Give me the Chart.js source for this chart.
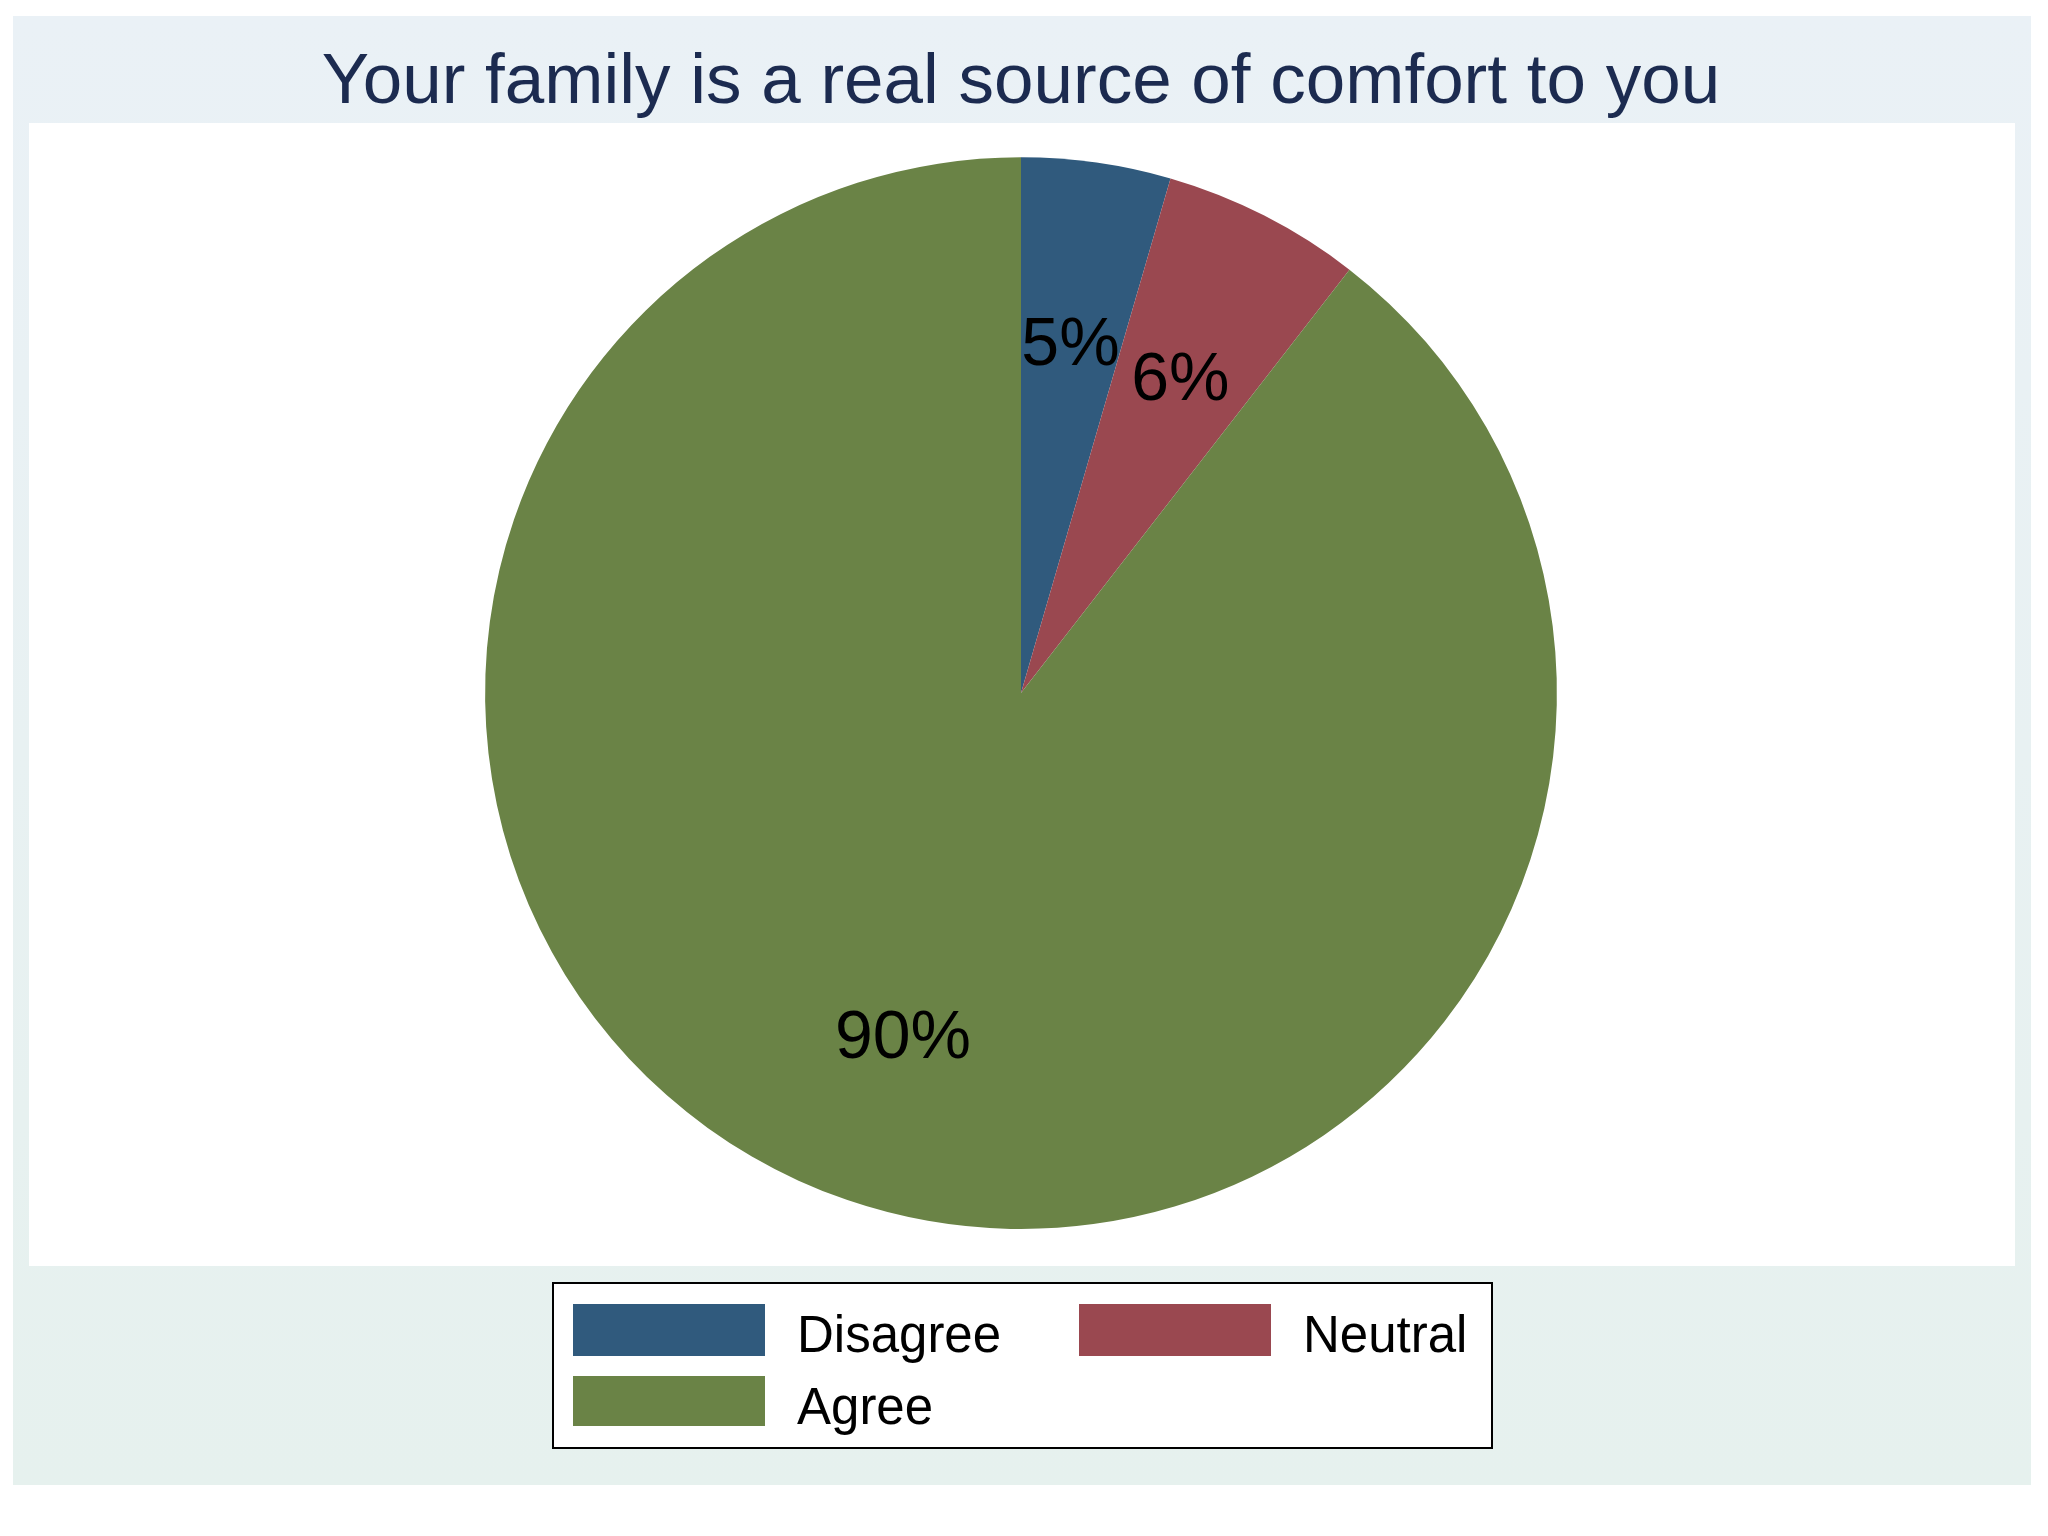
<!DOCTYPE html>
<html>
<head>
<meta charset="utf-8">
<script src="https://cdn.jsdelivr.net/npm/chart.js@4"></script>
<style>
  body { margin: 0; background: #fff; font-family: "Liberation Sans", Arial, sans-serif; }
  #panel { position: absolute; left: 13px; top: 16px; width: 2018px; height: 1469px;
           background: linear-gradient(#eaf1f6, #e6f1ee); }
  #plot { position: absolute; left: 29px; top: 123px; width: 1986px; height: 1143px; background: #fff; }
  #wrap { position: absolute; left: 0; top: 0; width: 2048px; height: 1536px; }
  #legend { position: absolute; left: 552px; top: 1282px; width: 937px; height: 163px;
            border: 2px solid #000; background: #fff; }
  .sw { position: absolute; width: 192px; height: 52px; }
  .lb { position: absolute; font-size: 51px; line-height: 1; color: #000; white-space: nowrap; }
</style>
</head>
<body>
<div id="panel"></div>
<div id="plot"></div>
<div id="wrap"><canvas id="grafico"></canvas></div>
<div id="legend"></div>
<script>
const titulo = 'Your family is a real source of comfort to you'
const categorias = ['Disagree', 'Neutral', 'Agree']
const valores = [4.5, 6.0, 89.5]
const rotulos = ['5%', '6%', '90%']
const cores = ['#305a7d', '#9a4850', '#6a8346']

// legenda em html (duas colunas, como no original)
const legenda = document.getElementById('legend')
const posLegenda = [[19, 20], [525, 20], [19, 92]]
categorias.forEach(function(nome, i){
    var sw = document.createElement('div')
    sw.className = 'sw'
    sw.style.left = posLegenda[i][0] + 'px'
    sw.style.top = posLegenda[i][1] + 'px'
    sw.style.height = (i == 2 ? 50 : 52) + 'px'
    sw.style.background = cores[i]
    legenda.appendChild(sw)
    var lb = document.createElement('div')
    lb.className = 'lb'
    lb.textContent = nome
    lb.style.left = (posLegenda[i][0] + 224) + 'px'
    lb.style.top = (posLegenda[i][1] + 5) + 'px'
    legenda.appendChild(lb)
})

const rotulosPlugin = {
    id: 'rotulos',
    afterDatasetsDraw(chart){
        const ctx = chart.ctx
        const arcos = chart.getDatasetMeta(0).data
        ctx.save()
        ctx.font = '68px "Liberation Sans", Arial, sans-serif'
        ctx.fillStyle = '#000'
        ctx.textAlign = 'center'
        ctx.textBaseline = 'middle'
        arcos.forEach(function(arco, i){
            const p = arco.getProps(['x', 'y', 'startAngle', 'endAngle', 'outerRadius'], true)
            const meio = (p.startAngle + p.endAngle) / 2
            const r = p.outerRadius * (i == 2 ? 0.68 : 0.655)
            ctx.fillText(rotulos[i], p.x + Math.cos(meio) * r, p.y + Math.sin(meio) * r + 1)
        })
        ctx.restore()
    }
}

const config = {
    type: 'pie',
    data: {
        labels: categorias,
        datasets: [{
            data: valores,
            backgroundColor: cores,
            borderWidth: 0,
        }]
    },
    options: {
        responsive: false,
        animation: false,
        layout: { padding: { top: 0, bottom: 307, left: 0, right: 6 } },
        plugins: {
            legend: { display: false },
            tooltip: { enabled: false },
            title: {
                display: true,
                text: titulo,
                color: '#1c2b50',
                font: { size: 71, family: '"Liberation Sans", Arial, sans-serif', weight: 'normal', lineHeight: 1.2 },
                padding: { top: 41, bottom: 31 }
            }
        }
    },
    plugins: [rotulosPlugin]
}

const canvas = document.getElementById('grafico')
canvas.width = 2048
canvas.height = 1536
const graficoGeral = new Chart(canvas, config)
</script>
</body>
</html>
